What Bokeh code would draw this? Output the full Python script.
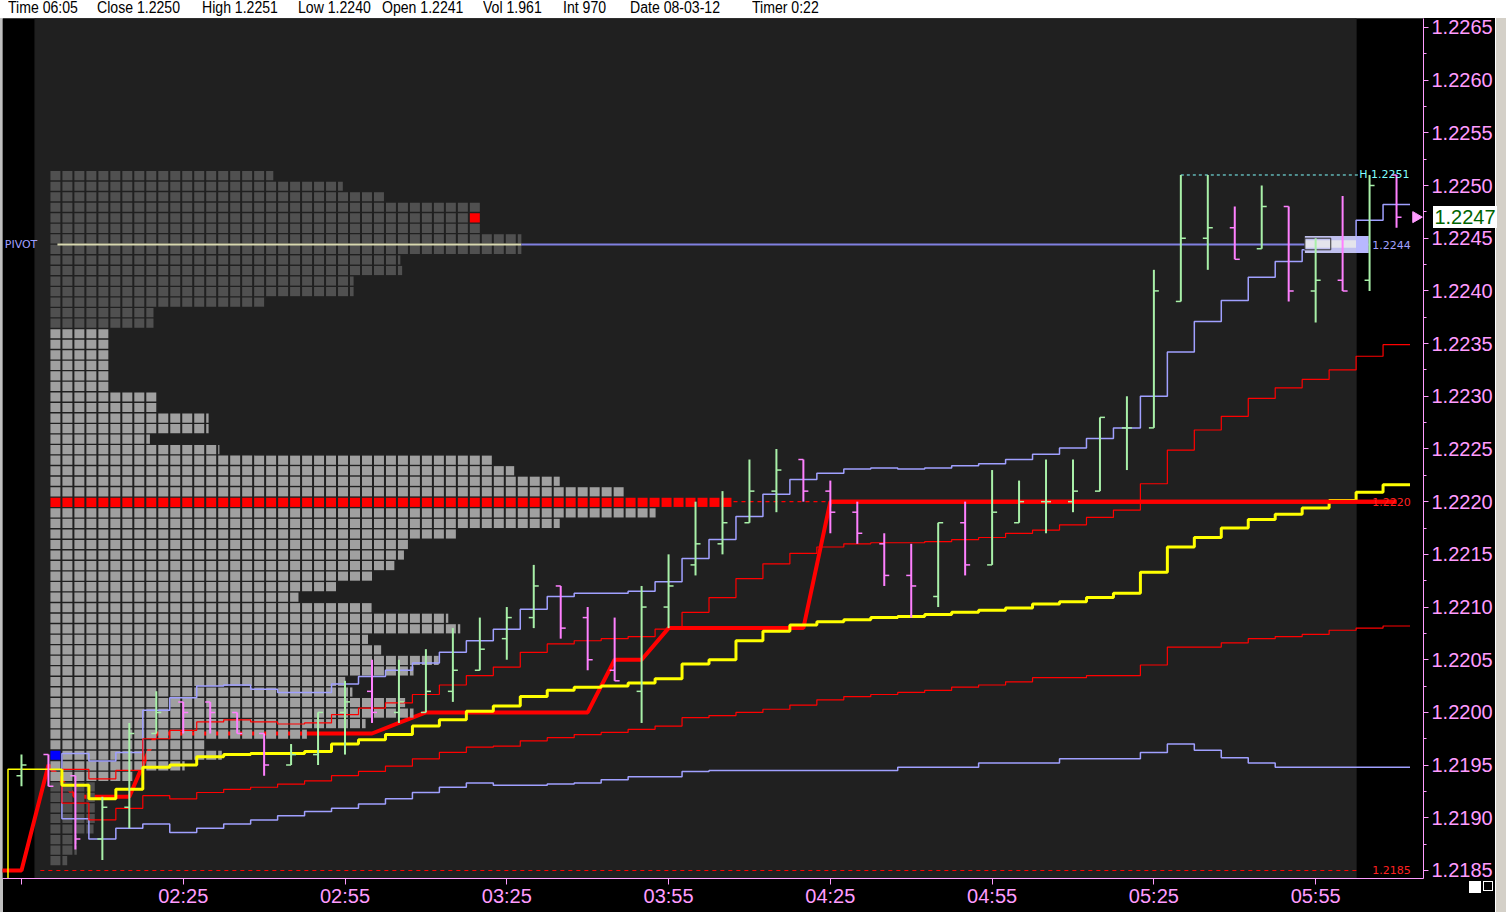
import math
from bokeh.plotting import figure
from bokeh.models import Range1d, FixedTicker, Label, Div, PrintfTickFormatter
from bokeh.layouts import row
from bokeh.embed import file_html
from bokeh.resources import INLINE

# ---------------- data ----------------
HEADER = [("Time", "06:05"), ("Close", "1.2250"), ("High", "1.2251"), ("Low", "1.2240"),
          ("Open", "1.2241"), ("Vol", "1.961"), ("Int", "970"), ("Date", "08-03-12"), ("Timer", "0:22")]

TICK_BARS = [0, 6, 12, 18, 24, 30, 36, 42, 48]
TICK_LABELS = ["", "02:25", "02:55", "03:25", "03:55", "04:25", "04:55", "05:25", "05:55"]

OPEN = [1.2194, 1.2196, 1.2194, 1.2188, 1.2191, 1.2198, 1.2201, 1.2201, 1.2200, 1.2198,
        1.2195, 1.2196, 1.2200, 1.2202, 1.2200, 1.2200, 1.2202, 1.2204, 1.2207, 1.2209,
        1.2212, 1.2209, 1.2204, 1.2202, 1.2210, 1.2214, 1.2216, 1.2218, 1.2221, 1.2224,
        1.2221, 1.2219, 1.2216, 1.2213, 1.2211, 1.2218, 1.2214, 1.2218, 1.2220, 1.2220,
        1.2221, 1.2227, 1.2227, 1.2239, 1.2245, 1.2246, 1.2244, 1.2248, 1.2240, 1.2241,
        1.2241, 1.2251]
HIGH = [1.2196, 1.2196, 1.2194, 1.2192, 1.2199, 1.2202, 1.2201, 1.2201, 1.2200, 1.2198,
        1.2197, 1.2200, 1.2203, 1.2205, 1.2205, 1.2206, 1.2208, 1.2209, 1.2210, 1.2214,
        1.2212, 1.2210, 1.2209, 1.2212, 1.2215, 1.2220, 1.2221, 1.2224, 1.2225, 1.2224,
        1.2222, 1.2220, 1.2217, 1.2216, 1.2218, 1.2220, 1.2223, 1.2222, 1.2224, 1.2224,
        1.2228, 1.2230, 1.2242, 1.2251, 1.2251, 1.2248, 1.2250, 1.2248, 1.2245, 1.2249,
        1.2251, 1.2251]
LOW = [1.2193, 1.2193, 1.2187, 1.2186, 1.2189, 1.2198, 1.2198, 1.2198, 1.2198, 1.2194,
       1.2195, 1.2195, 1.2196, 1.2199, 1.2199, 1.2200, 1.2201, 1.2204, 1.2205, 1.2208,
       1.2207, 1.2204, 1.2203, 1.2199, 1.2208, 1.2213, 1.2215, 1.2218, 1.2219, 1.2220,
       1.2217, 1.2216, 1.2212, 1.2209, 1.2210, 1.2213, 1.2214, 1.2218, 1.2217, 1.2219,
       1.2221, 1.2223, 1.2227, 1.2239, 1.2242, 1.2243, 1.2244, 1.2239, 1.2237, 1.2240,
       1.2240, 1.2246]
CLOSE = [1.2195, 1.2193, 1.2188, 1.2191, 1.2198, 1.2200, 1.2200, 1.2200, 1.2198, 1.2195,
         1.2196, 1.2200, 1.2201, 1.2200, 1.2201, 1.2202, 1.2204, 1.2206, 1.2209, 1.2212,
         1.2208, 1.2205, 1.2203, 1.2210, 1.2212, 1.2216, 1.2218, 1.2221, 1.2223, 1.2221,
         1.2219, 1.2217, 1.2213, 1.2212, 1.2218, 1.2214, 1.2219, 1.2220, 1.2220, 1.2221,
         1.2228, 1.2227, 1.2240, 1.2245, 1.2246, 1.2243, 1.2248, 1.2240, 1.2241, 1.2240,
         1.2250, 1.2247]

# developing point of control (bar -1 .. 51)
DPOC = [1.2185, 1.2185, 1.2195, 1.2192, 1.2192, 1.2192, 1.2198, 1.2198, 1.2198, 1.2198,
        1.2198, 1.2198, 1.2198, 1.2198, 1.2198, 1.2199, 1.2200, 1.2200, 1.2200, 1.2200,
        1.2200, 1.2200, 1.2200, 1.2205, 1.2205, 1.2208, 1.2208, 1.2208, 1.2208, 1.2208,
        1.2208, 1.2220, 1.2220, 1.2220, 1.2220, 1.2220, 1.2220, 1.2220, 1.2220, 1.2220,
        1.2220, 1.2220, 1.2220, 1.2220, 1.2220, 1.2220, 1.2220, 1.2220, 1.2220, 1.2220,
        1.2220, 1.2220, 1.2220]

# VWAP (bar -1 .. 51)
VWAP = [1.2180, 1.21946, 1.21946, 1.21931, 1.21918, 1.21927, 1.21948, 1.21950, 1.21958, 1.21960,
        1.21961, 1.21961, 1.21963, 1.21970, 1.21974, 1.21979, 1.21987, 1.21993, 1.22001, 1.22006,
        1.22015, 1.22021, 1.22024, 1.22025, 1.22028, 1.22032, 1.22046, 1.22050, 1.22068, 1.22077,
        1.22083, 1.22086, 1.22088, 1.22090, 1.22091, 1.22093, 1.22095, 1.22097, 1.22099, 1.22103,
        1.22105, 1.22109, 1.22113, 1.22133, 1.22157, 1.22166, 1.22175, 1.22183, 1.22188, 1.22194,
        1.22201, 1.22209, 1.22216]

# bands (bar 2 .. 51)
BAND_OUT_UP = [1.21961, 1.21954, 1.21962, 1.22002, 1.22014, 1.22025, 1.22026, 1.22022, 1.22019, 1.22019,
               1.22027, 1.22034, 1.22040, 1.22047, 1.22057, 1.22068, 1.22079, 1.22098, 1.22110, 1.22113,
               1.22113, 1.22115, 1.22124, 1.22146, 1.22164, 1.22186, 1.22207, 1.22221, 1.22227, 1.22231,
               1.22232, 1.22231, 1.22232, 1.22234, 1.22236, 1.22240, 1.22245, 1.22251, 1.22260, 1.22270,
               1.22300, 1.22342, 1.22371, 1.22391, 1.22413, 1.22428, 1.22439, 1.22451, 1.22467, 1.22482]
BAND_OUT_DN = [1.21899, 1.21880, 1.21890, 1.21894, 1.21886, 1.21890, 1.21894, 1.21898, 1.21902, 1.21906,
               1.21909, 1.21913, 1.21918, 1.21924, 1.21929, 1.21933, 1.21931, 1.21931, 1.21932, 1.21933,
               1.21936, 1.21939, 1.21939, 1.21944, 1.21945, 1.21945, 1.21945, 1.21945, 1.21945, 1.21945,
               1.21945, 1.21948, 1.21948, 1.21948, 1.21952, 1.21952, 1.21952, 1.21956, 1.21956, 1.21956,
               1.21962, 1.21970, 1.21964, 1.21957, 1.21952, 1.21948, 1.21948, 1.21948, 1.21948, 1.21948]
BAND_IN_UP = [1.21946, 1.21937, 1.21945, 1.21975, 1.21983, 1.21991, 1.21993, 1.21991, 1.21989, 1.21990,
              1.21998, 1.22004, 1.22009, 1.22017, 1.22026, 1.22035, 1.22043, 1.22057, 1.22065, 1.22068,
              1.22070, 1.22072, 1.22079, 1.22095, 1.22109, 1.22127, 1.22141, 1.22151, 1.22157, 1.22160,
              1.22161, 1.22161, 1.22162, 1.22164, 1.22166, 1.22170, 1.22173, 1.22178, 1.22185, 1.22192,
              1.22217, 1.22249, 1.22268, 1.22281, 1.22298, 1.22308, 1.22316, 1.22325, 1.22338, 1.22349]
BAND_IN_DN = [1.21914, 1.21898, 1.21909, 1.21921, 1.21918, 1.21924, 1.21927, 1.21929, 1.21932, 1.21935,
              1.21940, 1.21944, 1.21949, 1.21956, 1.21962, 1.21967, 1.21968, 1.21973, 1.21976, 1.21979,
              1.21981, 1.21984, 1.21987, 1.21995, 1.21997, 1.22000, 1.22003, 1.22007, 1.22012, 1.22015,
              1.22017, 1.22019, 1.22021, 1.22024, 1.22026, 1.22029, 1.22033, 1.22033, 1.22035, 1.22035,
              1.22045, 1.22062, 1.22062, 1.22066, 1.22070, 1.22072, 1.22074, 1.22078, 1.22080, 1.22082]

# market profile: row widths in TPO blocks, from the top price level downwards
PROFILE_TOP = 1.2251
PROFILE_WIDTH = [18.6, 24.4, 27.9, 36, 36, 36, 39.3, 39.3, 29.2, 29.35,
                 25.3, 25.3, 18, 8.6, 8.6, 5, 5, 5, 5, 5,
                 5, 9, 9, 13.2, 13.2, 8.3, 14.1, 37, 38.7, 42.5,
                 48, 57, 50.5, 42.5, 34, 30, 29.5, 28.7, 27, 24,
                 20.7, 26.8, 33.2, 34.2, 26.5, 27.6, 32.4, 30.3, 24.6, 25.2,
                 29.6, 30.3, 26.3, 21.4, 12.9, 14.3, 11.2, 7, 3.7, 3.7,
                 3.7, 3.7, 3.6, 2.2, 2.2, 1.4]
VALUE_AREA_HIGH = 1.2236
VALUE_AREA_LOW = 1.2194
POC = 1.2220
OPEN_TPO = 1.2196
LAST_PRICE = 1.2247
PIVOT = 1.22444
SESSION_HIGH = 1.2251
SESSION_LOW = 1.2185
HIGH_BAR = 43

# ---------------- style ----------------
PINK = "#ff9cff"
UP = "#a8f0a8"
DN = "#ff80ff"
LAV = "#a0a0ff"
BG = "#202020"
FONT = "Liberation Sans"
BAR_PX = 27.0          # reference pixel width of one 5-minute bar
TPO = 12.0 / BAR_PX    # width of a TPO block in bar units
TPO_W = 10.0 / BAR_PX
PROF_X0 = 29.0 / BAR_PX
TICK = 5.0 / BAR_PX
TICK_SIZE = 0.0001

FIG_W, FIG_H = 1493, 912
p = figure(width=FIG_W, height=FIG_H, output_backend="svg", toolbar_location=None,
           x_range=Range1d(-0.7037, 52.0), y_range=Range1d(1.218424, 1.226585),
           y_axis_location="right", background_fill_color="black",
           border_fill_color="black", outline_line_color=None,
           min_border_left=0, min_border_right=70, min_border_top=18, min_border_bottom=34)
p.grid.visible = False

ya = p.yaxis[0]
ya.ticker = FixedTicker(ticks=[1.2185 + 0.0005 * k for k in range(17)],
                        minor_ticks=[1.2185 + 0.00025 * k for k in range(34)])
ya.formatter = PrintfTickFormatter(format="%.4f")
for ax in (ya, p.xaxis[0]):
    ax.axis_line_color = PINK
    ax.major_tick_line_color = PINK
    ax.minor_tick_line_color = PINK
    ax.major_label_text_color = PINK
    ax.major_label_text_font = FONT
    ax.major_label_text_font_size = "20px"
    ax.major_tick_in = 0
    ax.major_tick_out = 5
    ax.minor_tick_in = 0
    ax.minor_tick_out = 3
ya.major_label_standoff = 3
xa = p.xaxis[0]
xa.ticker = FixedTicker(ticks=TICK_BARS, minor_ticks=[])
xa.major_label_overrides = {b: l for b, l in zip(TICK_BARS, TICK_LABELS)}
xa.major_label_standoff = 0
xa.major_tick_out = 6

# session background
p.quad(left=0.5, right=49.5, bottom=1.2170, top=1.2280, color=BG)

# developing POC (drawn under the profile)
dpoc_x = list(range(-1, 52))
p.line(dpoc_x, DPOC, line_color="red", line_width=4)

# market profile blocks
bl, br, bt, bb, bc = [], [], [], [], []
for k, w in enumerate(PROFILE_WIDTH):
    price = round(PROFILE_TOP - k * TICK_SIZE, 4)
    n = int(math.ceil(w - 1e-9))
    for j in range(n):
        left = PROF_X0 + j * TPO
        right = min(left + TPO_W, PROF_X0 + w * TPO)
        if price == POC:
            col = "#ff0000"
        elif VALUE_AREA_LOW <= price <= VALUE_AREA_HIGH:
            col = "#a0a0a0"
        else:
            col = "#505050"
        if price == OPEN_TPO and j == 0:
            col = "#0000ff"
        if price == LAST_PRICE and j == n - 1:
            col = "#ff0000"
        bl.append(left); br.append(right)
        bt.append(price + 0.000037); bb.append(price - 0.00005)
        bc.append(col)
p.quad(left=bl, right=br, top=bt, bottom=bb, fill_color=bc, line_color=None)

def step_path(first, vals):
    xs, ys = [], []
    for k, v in enumerate(vals):
        i = first + k
        xs += [i - 0.5, i + 0.5]
        ys += [v, v]
    return xs, ys

band_first = 2
for vals, col, lw in ((BAND_OUT_UP, LAV, 1.5), (BAND_OUT_DN, LAV, 1.5),
                      (BAND_IN_UP, "#ff0000", 1.2), (BAND_IN_DN, "#ff0000", 1.2)):
    xs, ys = step_path(band_first, vals)
    xs = [band_first - 0.5] + xs
    ys = [VWAP[band_first]] + ys
    p.line(xs, ys, line_color=col, line_width=lw)

# VWAP: thin part (previous session) and thick part
xs, ys = step_path(-1, VWAP[:3])
p.line(xs, ys, line_color="#ffff00", line_width=1.5)
xs, ys = step_path(1, VWAP[2:])
p.line(xs[1:], ys[1:], line_color="#ffff00", line_width=3)

# reference lines
pivot_row = round((PROFILE_TOP - PIVOT) / TICK_SIZE)
pivot_end = PROF_X0 + PROFILE_WIDTH[pivot_row] * TPO
p.segment(x0=[PROF_X0 + 0.26], x1=[pivot_end], y0=[PIVOT], y1=[PIVOT], line_color="#d8d8b0", line_width=2)
p.segment(x0=[pivot_end], x1=[49.96], y0=[PIVOT], y1=[PIVOT], line_color="#8080e0", line_width=2)
poc_end = PROF_X0 + PROFILE_WIDTH[round((PROFILE_TOP - POC) / TICK_SIZE)] * TPO
p.segment(x0=[poc_end], x1=[51.0], y0=[POC], y1=[POC], line_color="red", line_width=1.2, line_dash="4 4")
p.segment(x0=[0.7], x1=[49.6], y0=[SESSION_LOW], y1=[SESSION_LOW], line_color="red", line_width=1.2, line_dash="4 4")
p.segment(x0=[HIGH_BAR], x1=[49.6], y0=[SESSION_HIGH], y1=[SESSION_HIGH], line_color="#80ffff", line_width=1, line_dash="3 3")
p.line([30, 51], [POC, POC], line_color="red", line_width=4)

# glossy pivot box near the last bars
p.quad(left=[47.6], right=[49.96], bottom=[PIVOT - 0.00008], top=[PIVOT + 0.00008],
       fill_color="#c0c0ee", line_color=None)
p.quad(left=[47.6], right=[49.5], bottom=[PIVOT - 0.00003], top=[PIVOT + 0.00004],
       fill_color="#e4e4ec", line_color=None)
p.quad(left=[49.5], right=[49.96], bottom=[PIVOT - 0.00008], top=[PIVOT + 0.00008],
       fill_color="#b8b8ff", line_color=None)
p.quad(left=[47.6], right=[48.56], bottom=[PIVOT - 0.00005], top=[PIVOT + 0.00006],
       fill_color=None, line_color="#303030", line_width=1)

# price bars
idx = list(range(len(OPEN)))
cols = [UP if c >= o else DN for o, c in zip(OPEN, CLOSE)]
p.segment(x0=idx, x1=idx, y0=LOW, y1=HIGH, line_color=cols, line_width=2)
p.segment(x0=[i - TICK for i in idx], x1=idx, y0=OPEN, y1=OPEN, line_color=cols, line_width=1.5)
p.segment(x0=idx, x1=[i + TICK for i in idx], y0=CLOSE, y1=CLOSE, line_color=cols, line_width=1.5)

# last price arrow
p.scatter([51.72], [LAST_PRICE], marker="triangle", angle=-math.pi / 2, size=11,
          fill_color=PINK, line_color=PINK)

def small(x, y, text, color, align="left"):
    p.add_layout(Label(x=x, y=y, text=text, text_color=color, text_font="DejaVu Sans",
                       text_font_size="11px", text_baseline="middle", text_align=align))

small(49.62, SESSION_HIGH, "H 1.2251", "#80ffff")
small(50.1, PIVOT, "%.4f" % PIVOT, LAV)
small(50.1, POC, "%.4f" % POC, "#ff2020")
small(50.1, SESSION_LOW, "%.4f" % SESSION_LOW, "#ff2020")
small(-0.62, PIVOT, "PIVOT", LAV)

# header strip (overlaid on the figure's top border)
lefts = [8, 97, 202, 298, 382, 483, 563, 630, 752]
spans = "".join('<span style="position:absolute;left:%dpx;top:-1px;display:inline-block;'
                'transform:scaleX(0.88);transform-origin:0 0;white-space:nowrap;">%s %s</span>'
                % (l, a, b) for l, (a, b) in zip(lefts, HEADER))
header_html = ('<div style="position:absolute;left:0px;top:0px;width:1506px;height:18px;'
               'background:#ffffff;color:#000000;font-family:\'Liberation Sans\',Arial,sans-serif;'
               'font-size:16px;line-height:18px;overflow:hidden;">%s</div>' % spans)
left_edge = Div(text=header_html, width=2, height=FIG_H,
                styles={"background-color": "#c0c0c0", "overflow": "visible",
                        "position": "relative", "z-index": "6"},
                margin=(0, 0, 0, 0))

# price-scale box with the last price and the two small scale buttons (drawn over the axis)
price_box = ('<div style="position:absolute;left:-63px;top:206px;width:64px;height:22px;'
             'background:#ffffff;color:#006400;font-family:\'Liberation Sans\',Arial,sans-serif;'
             'font-size:20px;line-height:22px;text-align:center;">%.4f</div>' % LAST_PRICE)
buttons = ('<div style="position:absolute;left:-27px;top:881px;width:12px;height:12px;background:#ffffff;"></div>'
           '<div style="position:absolute;left:-13px;top:881px;width:10px;height:10px;border:1px solid #ffffff;"></div>')
side = Div(text=price_box + buttons, width=11, height=FIG_H,
           styles={"background-color": "#d4d0c8", "border-left": "1px solid #ffffff",
                   "overflow": "visible", "position": "relative", "z-index": "5"},
           margin=(0, 0, 0, 0))
p.margin = (0, 0, 0, 0)
layout = row(left_edge, p, side, spacing=0)

open("out.html", "w").write(file_html(layout, INLINE))
